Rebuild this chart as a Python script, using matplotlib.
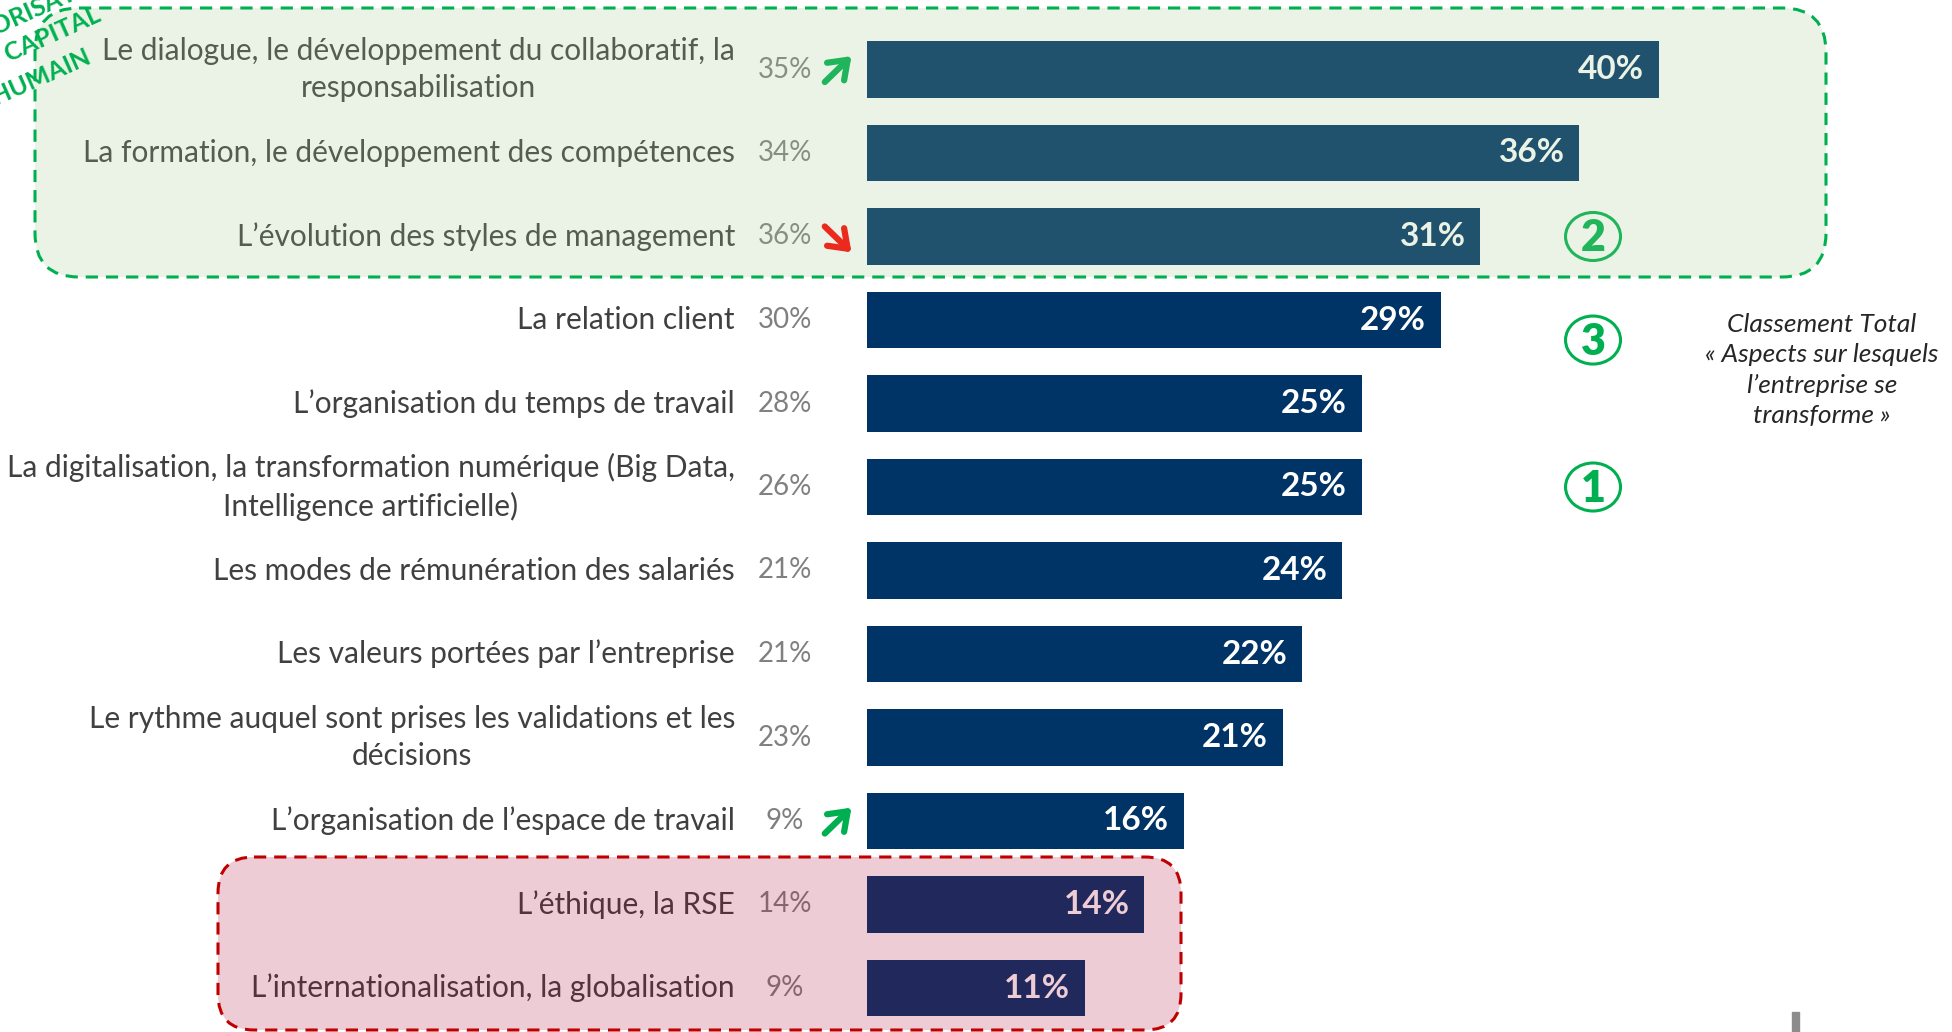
import numpy as np
import matplotlib.pyplot as plt
from matplotlib.patches import FancyBboxPatch, Ellipse, Rectangle

# Données du graphique (classement total)
categories = [
    "Le dialogue, le développement du collaboratif, la\nresponsabilisation",
    "La formation, le développement des compétences",
    "L\u2019évolution des styles de management",
    "La relation client",
    "L\u2019organisation du temps de travail",
    "La digitalisation, la transformation numérique (Big Data,\nIntelligence artificielle)",
    "Les modes de rémunération des salariés",
    "Les valeurs portées par l\u2019entreprise",
    "Le rythme auquel sont prises les validations et les\ndécisions",
    "L\u2019organisation de l\u2019espace de travail",
    "L\u2019éthique, la RSE",
    "L\u2019internationalisation, la globalisation",
]
valeurs = [40, 36, 31, 29, 25, 25, 24, 22, 21, 16, 14, 11]
valeurs_precedentes = [35, 34, 36, 30, 28, 26, 21, 21, 23, 9, 14, 9]
tendances = ["up", None, "down", None, None, None, None, None, None, "up", None, None]
rangs = ["2", "3", "1"]
rangs_position = [2, 3.24, 5]
titre_encadre = ["VALORISATION", "DU CAPITAL", "HUMAIN"]

plt.rcParams['font.family'] = ['Lato', 'DejaVu Sans']

W, H = 1952, 1032
fig = plt.figure(figsize=(W / 100, H / 100), dpi=100)

# axe des barres : x en %, y en rangs
x0, px_pct = 867.3, 19.78
y0, px_row = 69.5, 83.5
ax = fig.add_axes([x0 / W, 0, (W - x0) / W, 1])
ax.set_xlim(0, (W - x0) / px_pct)
ax.set_ylim((H - y0) / px_row, -y0 / px_row)
ax.axis('off')

y = np.arange(len(categories))
ax.barh(y, valeurs, height=0.68, color='#003366', zorder=2)

fleche = dict(arrowstyle='->,head_length=0.55,head_width=0.4', lw=4.5,
              shrinkA=0, shrinkB=0, mutation_scale=22)

for i, (cat, v, vp, t) in enumerate(zip(categories, valeurs, valeurs_precedentes, tendances)):
    ax.text(v - 0.75, i, f"{v}%", ha='right', va='center', color='white',
            fontsize=24, fontweight='bold', zorder=3)
    ax.text(-6.69, i, cat, ha='right', va='center', multialignment='center',
            color='#404040', fontsize=21.5, linespacing=1.42, clip_on=False)
    ax.text(-4.16, i, f"{vp}%", ha='center', va='center', color='#808080',
            fontsize=20, clip_on=False)
    if t == "up":
        ax.annotate("", xy=(-0.8, i - 0.16), xytext=(-2.15, i + 0.15),
                    arrowprops=dict(fleche, color='#00B050'), annotation_clip=False)
    elif t == "down":
        ax.annotate("", xy=(-0.8, i + 0.19), xytext=(-2.15, i - 0.12),
                    arrowprops=dict(fleche, color='#FF0000'), annotation_clip=False)

# numéros de rang entourés
for r, yp in zip(rangs, rangs_position):
    ax.add_patch(Ellipse((36.69, yp), 2.78, 0.575, fill=False,
                         edgecolor='#00B050', lw=2.2, zorder=8))
    ax.text(36.69, yp + 0.02, r, ha='center', va='center', color='#00B050',
            fontsize=31, fontweight='heavy', zorder=8)

ax.text(48.27, 3.6, "Classement Total\n\u00ab Aspects sur lesquels\nl\u2019entreprise se\ntransforme \u00bb",
        ha='center', va='center', multialignment='center', style='italic',
        color='#262626', fontsize=19, linespacing=1.38)

# calque des encadrés (coordonnées pixels)
ov = fig.add_axes([0, 0, 1, 1], zorder=5)
ov.set_xlim(0, W)
ov.set_ylim(H, 0)
ov.axis('off')
ov.patch.set_alpha(0)

ov.add_patch(FancyBboxPatch((35, 8), 1826 - 35, 277 - 8,
                            boxstyle='round,pad=0,rounding_size=44',
                            facecolor=(160 / 255, 202 / 255, 136 / 255, 0.21),
                            edgecolor='#00B050', lw=2.2, linestyle=(0, (4, 2.6))))
ov.add_patch(FancyBboxPatch((218, 857), 1181 - 218, 1030 - 857,
                            boxstyle='round,pad=0,rounding_size=36',
                            facecolor=(170 / 255, 0, 47 / 255, 0.2),
                            edgecolor='#C00000', lw=2.2, linestyle=(0, (4, 2.6))))

# titre incliné, coupé par le bord comme sur l'original
for mot, (tx, ty) in zip(titre_encadre, [(33, 11), (33, 43), (41, 77)]):
    ov.text(tx, ty, mot, rotation=24, rotation_mode='anchor', ha='center', va='center',
            color='#00B050', fontsize=18, fontweight='bold')

# fragment de logo en bas à droite
ov.add_patch(Rectangle((1792, 1012), 7, 20, color='#8C8C8C'))

fig.savefig('out.png', dpi=100)
